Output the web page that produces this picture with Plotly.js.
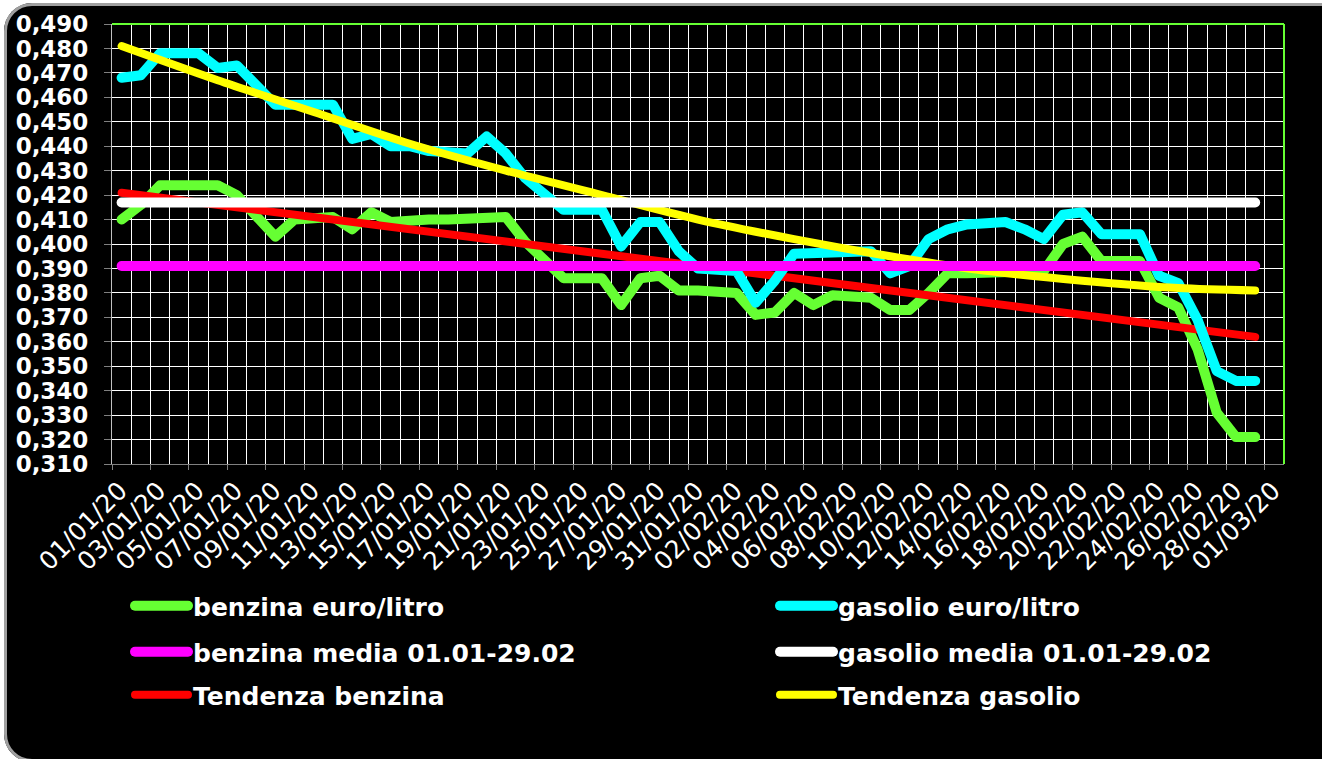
<!DOCTYPE html>
<html><head><meta charset="utf-8">
<script src="https://cdn.plot.ly/plotly-3.0.1.min.js"></script>
<style>
html,body{margin:0;padding:0;background:#fff;overflow:hidden;}
#wrap{position:relative;width:1322px;height:759px;overflow:hidden;background:#fff;}
#chart{position:absolute;left:0;top:0;width:1322px;height:759px;}
#frame{position:absolute;left:4px;top:3px;width:1380px;height:753px;border:3px solid #a0a0a0;border-radius:28px;box-shadow:0 0 0 60px #fff;pointer-events:none;}
.scatterlayer .js-line{stroke-linecap:round;stroke-linejoin:round;}
.legendlines .js-line{stroke-linecap:round;}
</style></head><body>
<div id="wrap"><div id="chart"></div><div id="frame"></div></div>
<script>
// Days (each value plotted at the middle of its day)
var dates = [
 '2020-01-01 12:00','2020-01-02 12:00','2020-01-03 12:00','2020-01-04 12:00','2020-01-05 12:00',
 '2020-01-06 12:00','2020-01-07 12:00','2020-01-08 12:00','2020-01-09 12:00','2020-01-10 12:00',
 '2020-01-11 12:00','2020-01-12 12:00','2020-01-13 12:00','2020-01-14 12:00','2020-01-15 12:00',
 '2020-01-16 12:00','2020-01-17 12:00','2020-01-18 12:00','2020-01-19 12:00','2020-01-20 12:00',
 '2020-01-21 12:00','2020-01-22 12:00','2020-01-23 12:00','2020-01-24 12:00','2020-01-25 12:00',
 '2020-01-26 12:00','2020-01-27 12:00','2020-01-28 12:00','2020-01-29 12:00','2020-01-30 12:00',
 '2020-01-31 12:00','2020-02-01 12:00','2020-02-02 12:00','2020-02-03 12:00','2020-02-04 12:00',
 '2020-02-05 12:00','2020-02-06 12:00','2020-02-07 12:00','2020-02-08 12:00','2020-02-09 12:00',
 '2020-02-10 12:00','2020-02-11 12:00','2020-02-12 12:00','2020-02-13 12:00','2020-02-14 12:00',
 '2020-02-15 12:00','2020-02-16 12:00','2020-02-17 12:00','2020-02-18 12:00','2020-02-19 12:00',
 '2020-02-20 12:00','2020-02-21 12:00','2020-02-22 12:00','2020-02-23 12:00','2020-02-24 12:00',
 '2020-02-25 12:00','2020-02-26 12:00','2020-02-27 12:00','2020-02-28 12:00','2020-02-29 12:00'
];

var benzina = [
 0.410,0.416,0.424,0.424,0.424,0.424,0.420,0.411,0.403,0.410,
 0.411,0.411,0.406,0.413,0.409,0.410,0.410,0.410,0.410,0.411,
 0.411,0.401,0.394,0.386,0.386,0.386,0.375,0.386,0.387,0.381,
 0.381,0.381,0.380,0.371,0.372,0.380,0.375,0.379,0.378,0.378,
 0.373,0.373,0.380,0.388,0.388,0.388,0.388,0.388,0.389,0.400,
 0.403,0.393,0.393,0.393,0.378,0.374,0.357,0.331,0.321,0.321
];

var gasolio = [
 0.468,0.469,0.478,0.478,0.478,0.472,0.473,0.465,0.457,0.457,
 0.457,0.457,0.443,0.445,0.440,0.440,0.438,0.437,0.437,0.444,
 0.437,0.427,0.421,0.414,0.414,0.414,0.399,0.409,0.409,0.397,
 0.390,0.389,0.389,0.376,0.385,0.396,0.396,0.396,0.397,0.397,
 0.388,0.391,0.402,0.406,0.408,0.409,0.409,0.406,0.402,0.412,
 0.413,0.404,0.404,0.404,0.387,0.384,0.369,0.348,0.344,0.344
];

var mediaDates = ['2020-01-01 12:00','2020-02-29 12:00'];
var benzinaMedia = [0.391, 0.391];
var gasolioMedia = [0.417, 0.417];

var trendBenzDates = ['2020-01-01 12:00','2020-02-29 12:00'];
var trendBenzina = [0.421, 0.362];

var trendGasDates = ['2020-01-01 12:00','2020-01-06 12:00','2020-01-11 12:00','2020-01-16 12:00',
 '2020-01-21 12:00','2020-01-26 12:00','2020-01-31 12:00','2020-02-05 12:00','2020-02-10 12:00',
 '2020-02-15 12:00','2020-02-20 12:00','2020-02-25 12:00','2020-02-29 12:00'];
var trendGasolio = [0.481,0.467,0.454,0.441,0.430,0.420,0.410,0.402,0.395,0.389,0.385,0.382,0.381];

var names = ['benzina euro/litro','gasolio euro/litro','benzina media 01.01-29.02',
             'gasolio media 01.01-29.02','Tendenza benzina','Tendenza gasolio'];

var traces = [
 {x: dates, y: benzina, name: names[0], mode:'lines', line:{color:'#66ff33', width:10}, legend:'legend'},
 {x: trendBenzDates, y: trendBenzina, name: names[4], mode:'lines', line:{color:'#ff0000', width:8}, legend:'legend5'},
 {x: dates, y: gasolio, name: names[1], mode:'lines', line:{color:'#00ffff', width:10}, legend:'legend2'},
 {x: trendGasDates, y: trendGasolio, name: names[5], mode:'lines', line:{color:'#ffff00', width:8, shape:'spline', smoothing:0.8}, legend:'legend6'},
 {x: mediaDates, y: benzinaMedia, name: names[2], mode:'lines', line:{color:'#ff00ff', width:10}, legend:'legend3'},
 {x: mediaDates, y: gasolioMedia, name: names[3], mode:'lines', line:{color:'#ffffff', width:10}, legend:'legend4'}
];

var legFont = {family:'DejaVu Sans', size:25, color:'#ffffff', weight:'bold'};
function leg(xpx, ypx){
  return {orientation:'v', xref:'container', yref:'container', x:xpx/1322, y:1-ypx/759,
          xanchor:'left', yanchor:'middle', font:legFont, bgcolor:'rgba(0,0,0,0)',
          itemwidth:53, borderwidth:0};
}

var layout = {
  width:1322, height:759,
  paper_bgcolor:'#000000', plot_bgcolor:'#000000',
  margin:{l:112, r:38, t:24, b:295, pad:0, autoexpand:false},
  separators:',.',
  showlegend:true,
  xaxis:{
    type:'date', range:['2020-01-01 00:00','2020-03-02 00:00'],
    tick0:'2020-01-01', dtick:172800000, tickformat:'%d/%m/%y', tickangle:-45,
    ticks:'outside', ticklen:5, tickcolor:'#808080', tickwidth:1,
    showgrid:true, gridcolor:'#ffffff', gridwidth:1,
    minor:{dtick:86400000, tick0:'2020-01-01', showgrid:true, gridcolor:'#ffffff', gridwidth:1, ticks:''},
    showline:true, linecolor:'#808080', linewidth:1,
    tickfont:{family:'DejaVu Sans', size:25, color:'#ffffff'},
    ticklabelshift:8, ticklabelstandoff:-4,
    automargin:false, zeroline:false, fixedrange:true
  },
  yaxis:{
    range:[0.31,0.49], tick0:0.31, dtick:0.01, tickformat:'.3f',
    ticks:'outside', ticklen:7, tickcolor:'#808080', tickwidth:1,
    showgrid:true, gridcolor:'#ffffff', gridwidth:1,
    showline:true, linecolor:'#c0c0c0', linewidth:1,
    tickfont:{family:'DejaVu Sans', size:23, color:'#ffffff', weight:'bold'},
    ticklabelstandoff:11,
    automargin:false, zeroline:false, fixedrange:true
  },
  shapes:[
    {type:'line', xref:'paper', yref:'paper', x0:0, x1:1, y0:1, y1:1, line:{color:'#66ff33', width:2}, layer:'above'},
    {type:'line', xref:'paper', yref:'paper', x0:1, x1:1, y0:0, y1:1, line:{color:'#66ff33', width:2}, layer:'above'}
  ],
  legend: leg(130, 606),
  legend2: leg(775, 606),
  legend3: leg(130, 652),
  legend4: leg(775, 652),
  legend5: leg(130, 695),
  legend6: leg(775, 695)
};

Plotly.newPlot('chart', traces, layout, {displayModeBar:false, staticPlot:true});
</script></body></html>
